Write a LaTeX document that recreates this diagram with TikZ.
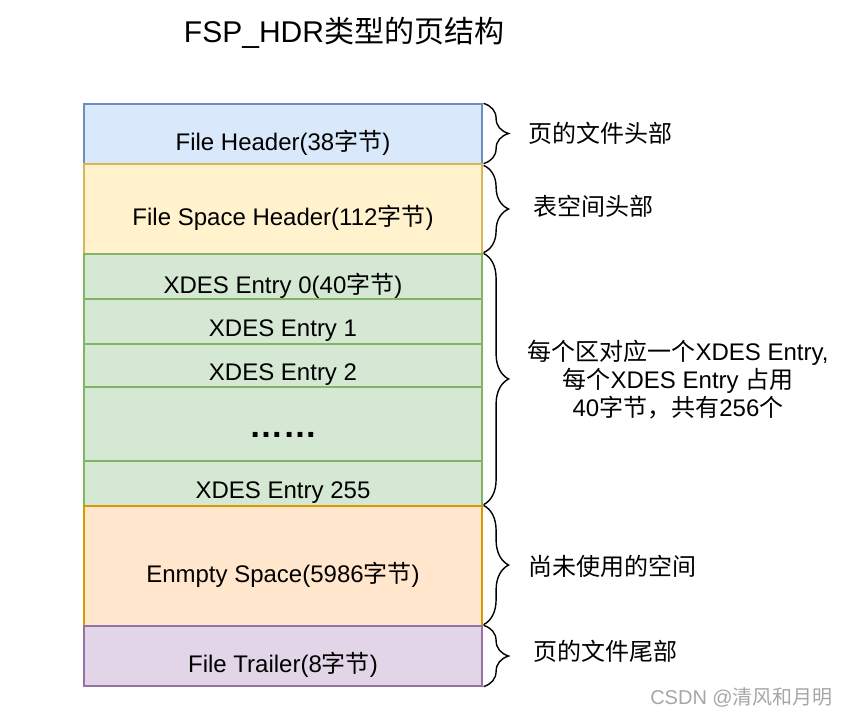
\documentclass[tikz,border=0pt]{standalone}
\usepackage{fontspec}
\setmainfont{Liberation Sans}
\newfontfamily\cjk{Noto Sans CJK SC}
\usepackage{xcolor}
\usetikzlibrary{decorations.pathreplacing}
\definecolor{hdrfill}{HTML}{DAE8FC}\definecolor{hdrline}{HTML}{6C8EBF}
\definecolor{fspfill}{HTML}{FFF2CC}\definecolor{fspline}{HTML}{D6B656}
\definecolor{xdfill}{HTML}{D5E8D4}\definecolor{xdline}{HTML}{82B366}
\definecolor{empfill}{HTML}{FFE6CC}\definecolor{empline}{HTML}{D79B00}
\definecolor{trlfill}{HTML}{E1D5E7}\definecolor{trlline}{HTML}{9673A6}
\newcommand{\zj}{{\cjk 字节}}

\begin{document}
\begin{tikzpicture}[x=1pt, y=-1pt,
  seg/.style={draw, line width=1.2pt, minimum width=398pt, inner sep=0pt},
  segtext/.style={font=\fontsize{24}{28}\selectfont, inner sep=0pt},
  brc/.style={decorate, decoration={brace, amplitude=25pt}, line width=1.4pt},
  note/.style={font=\fontsize{24}{28}\selectfont\cjk, anchor=west, inner sep=0pt}]
  \useasboundingbox (0,0) rectangle (848,717);
  % ---------- TITLE ----------
  \node[font=\fontsize{30}{34}\selectfont, inner sep=0pt] (title) at (344,33)
    {FSP\_HDR{\cjk 类型的页结构}};
  % ---------- PAGE SEGMENTS ----------
  \node[seg, fill=hdrfill, draw=hdrline, minimum height=60pt] (fh) at (283,134) {};
  \node[seg, fill=fspfill, draw=fspline, minimum height=90pt] (fsh) at (283,209) {};
  \node[seg, fill=xdfill, draw=xdline, minimum height=45pt] (x0) at (283,276.5) {};
  \node[seg, fill=xdfill, draw=xdline, minimum height=45pt] (x1) at (283,321.5) {};
  \node[seg, fill=xdfill, draw=xdline, minimum height=43pt] (x2) at (283,365.5) {};
  \node[seg, fill=xdfill, draw=xdline, minimum height=74pt] (xd) at (283,424) {};
  \node[seg, fill=xdfill, draw=xdline, minimum height=45pt] (x255) at (283,483.5) {};
  \node[seg, fill=empfill, draw=empline, minimum height=120pt] (es) at (283,566) {};
  \node[seg, fill=trlfill, draw=trlline, minimum height=60pt] (ft) at (283,656) {};
  % ---------- SEGMENT TEXT ----------
  \node[segtext] (fhT) at ([yshift=-9pt]fh.center) {File Header(38\zj)};
  \node[segtext] (fshT) at ([yshift=-9pt]fsh.center) {File Space Header(112\zj)};
  \node[segtext] (x0T) at ([yshift=-9pt]x0.center) {XDES Entry 0(40\zj)};
  \node[segtext] (x1T) at ([yshift=-9pt]x1.center) {XDES Entry 1};
  \node[segtext] (x2T) at ([yshift=-9pt]x2.center) {XDES Entry 2};
  \node[font=\fontsize{34}{38}\selectfont\bfseries, inner sep=0pt] (xdT) at ([yshift=-11pt]xd.center) {……};
  \node[segtext] (x255T) at ([yshift=-9pt]x255.center) {XDES Entry 255};
  \node[segtext] (esT) at ([yshift=-9pt]es.center) {Enmpty Space(5986\zj)};
  \node[segtext] (ftT) at ([yshift=-9pt]ft.center) {File Trailer(8\zj)};
  % ---------- BRACES ----------
  \draw[brc] ([xshift=1pt]fh.north east) -- ([xshift=1pt,yshift=1pt]fh.south east);
  \draw[brc] ([xshift=1pt,yshift=-2pt]fsh.north east) -- ([xshift=1pt,yshift=2pt]fsh.south east);
  \draw[brc] ([xshift=1pt]x0.north east) -- ([xshift=1pt,yshift=2pt]x255.south east);
  \draw[brc] ([xshift=1pt]es.north east) -- ([xshift=1pt,yshift=2pt]es.south east);
  \draw[brc] ([xshift=1pt]ft.north east) -- ([xshift=1pt]ft.south east);
  % ---------- NOTES ----------
  \node[note] (fhN) at (528,133) {页的文件头部};
  \node[note] (fshN) at (533,206) {表空间头部};
  \node[font=\fontsize{24}{28}\selectfont, align=center, inner sep=0pt] (xdN) at (678,380)
    {{\cjk 每个区对应一个}XDES Entry,\\{\cjk 每个}XDES Entry {\cjk 占用}\\40{\cjk 字节，共有}256{\cjk 个}};
  \node[note] (esN) at (528,566) {尚未使用的空间};
  \node[note] (ftN) at (533,651) {页的文件尾部};
  % ---------- WATERMARK ----------
  \node[font=\fontsize{20}{24}\selectfont, text=gray!70, anchor=east, inner sep=0pt] (mark) at (833,697)
    {CSDN @{\cjk 清风和月明}};
\end{tikzpicture}
\end{document}
